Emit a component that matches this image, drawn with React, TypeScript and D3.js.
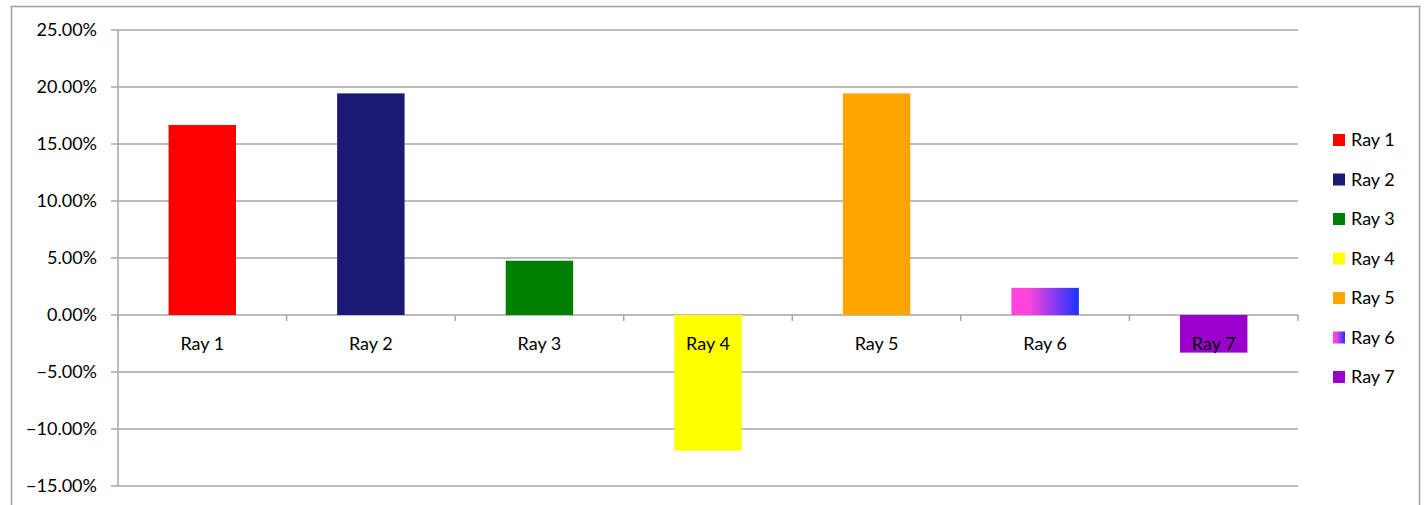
import React from "react";
import * as d3 from "d3";

const categories = ["Ray 1", "Ray 2", "Ray 3", "Ray 4", "Ray 5", "Ray 6", "Ray 7"];
const values = [0.1667, 0.1944, 0.0476, -0.119, 0.1944, 0.0238, -0.033];
const colors = ["#ff0000", "#1a1a75", "#008000", "#ffff00", "#ffa500", "url(#g6)", "#9900cc"];
const yTicks = [-0.15, -0.1, -0.05, 0, 0.05, 0.1, 0.15, 0.2, 0.25];

const W = 1428;
const H = 505;
const left = 118;
const right = 1298;
const top = 30;
const bottom = 486;

export default function App() {
  const x = d3.scaleBand<string>().domain(categories).range([left, right]).paddingInner(0.6).paddingOuter(0.3);
  const xb = d3.scaleBand<string>().domain(categories).range([left, right]);
  const y = d3.scaleLinear().domain([-0.15, 0.25]).range([bottom, top]);
  const font = "Lato, 'Open Sans', sans-serif";
  const fs = 18;
  const grid = "#a6a6a6";
  return (
    <svg width={W} height={H} style={{ position: "absolute", left: 0, top: 0 }}>
      <defs>
        <linearGradient id="g6" x1="0" x2="1" y1="0" y2="0">
          <stop offset="0" stopColor="#ff44dd" />
          <stop offset="0.25" stopColor="#ff44dd" />
          <stop offset="1" stopColor="#1a33ff" />
        </linearGradient>
      </defs>
      <rect x={0} y={0} width={W} height={H} fill="#fff" />
      <rect x={11.5} y={6.5} width={1408} height={510} fill="none" stroke="#a0a0a0" strokeWidth={1.5} />
      {yTicks.map((t) => (
        <g key={t}>
          <line x1={111} x2={right} y1={y(t)} y2={y(t)} stroke={grid} strokeWidth={1.5} />
          <text x={97} y={y(t)} dy="0.35em" textAnchor="end" fontFamily={font} fontSize={fs} fill="#000">
            {d3.format(".2%")(t)}
          </text>
        </g>
      ))}
      <line x1={left} x2={left} y1={top} y2={bottom} stroke={grid} strokeWidth={1.5} />
      {categories.map((c, i) => {
        const v = values[i];
        const y0 = y(0);
        const yv = y(v);
        return (
          <rect
            key={c}
            x={x(c)}
            width={x.bandwidth()}
            y={Math.min(y0, yv)}
            height={Math.abs(yv - y0)}
            fill={colors[i]}
          />
        );
      })}
      {categories.map((c, i) => (
        <line key={"t" + c} x1={(xb(c) as number) + xb.bandwidth()} x2={(xb(c) as number) + xb.bandwidth()} y1={y(0)} y2={y(0) + 6} stroke={grid} strokeWidth={1.5} />
      ))}
      <line x1={left} x2={left} y1={y(0)} y2={y(0) + 6} stroke={grid} strokeWidth={1.5} />
      {categories.map((c) => (
        <text key={"l" + c} x={(xb(c) as number) + xb.bandwidth() / 2} y={344} dy="0.35em" textAnchor="middle" fontFamily={font} fontSize={fs} fill="#000">
          {c}
        </text>
      ))}
      {categories.map((c, i) => (
        <g key={"lg" + c} transform={`translate(1333, ${140 + i * 39.5})`}>
          <rect x={0} y={-6} width={12} height={12} fill={colors[i]} />
          <text x={18} y={0} dy="0.35em" fontFamily={font} fontSize={fs} fill="#000">
            {c}
          </text>
        </g>
      ))}
    </svg>
  );
}
